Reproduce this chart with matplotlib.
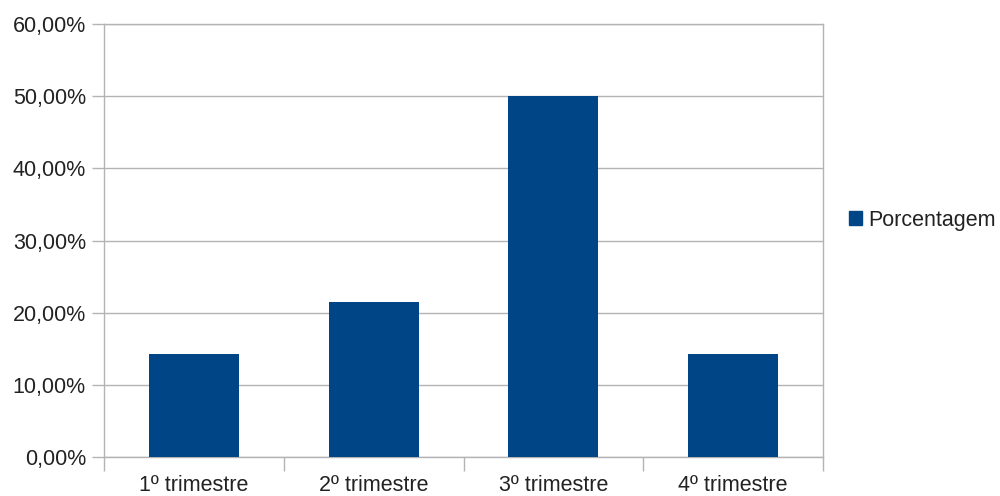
import numpy as np
import matplotlib
matplotlib.use('Agg')
import matplotlib.pyplot as plt
from matplotlib.patches import Patch
from matplotlib.ticker import FuncFormatter

categories = ['1º trimestre', '2º trimestre', '3º trimestre', '4º trimestre']
porcentagem = [14.29, 21.43, 50.00, 14.29]
series_name = 'Porcentagem'
y_ticks = [0, 10, 20, 30, 40, 50, 60]

bar_color = '#004586'
grid_color = '#b3b3b3'
text_color = '#222222'

plt.rcParams['font.family'] = ['Liberation Sans', 'DejaVu Sans']

fig = plt.figure(figsize=(10, 4.96), dpi=100)
ax = fig.add_axes([0.104, 0.0786, 0.719, 0.873])

x = np.arange(len(categories))
ax.bar(x, porcentagem, width=0.5, color=bar_color, zorder=3)

ax.set_xlim(-0.5, len(categories) - 0.5)
ax.set_ylim(0, 60)
ax.set_yticks(y_ticks)
ax.yaxis.set_major_formatter(FuncFormatter(lambda v, p: f'{v:.2f}%'.replace('.', ',')))
ax.yaxis.grid(True, color=grid_color, linewidth=1, zorder=0)

ax.set_xticks(x)
ax.set_xticklabels(categories)
ax.set_xticks(np.arange(-0.5, len(categories)), minor=True)
ax.tick_params(axis='x', which='major', length=0, pad=13, labelsize=15.5, labelcolor=text_color)
ax.tick_params(axis='x', which='minor', length=10, width=1, color=grid_color)
ax.tick_params(axis='y', length=9, width=1, color=grid_color, pad=4,
               labelsize=15.5, labelcolor=text_color)

for s in ax.spines.values():
    s.set_color(grid_color)
    s.set_linewidth(1)

handle = Patch(facecolor=bar_color, edgecolor=bar_color)
fig.legend([handle], [series_name], loc='center left', bbox_to_anchor=(0.849, 0.556),
           frameon=False, fontsize=15.5, handlelength=0.6, handleheight=0.6,
           handletextpad=0.3, borderpad=0, borderaxespad=0, labelcolor=text_color)

fig.savefig('out.png', dpi=100)
